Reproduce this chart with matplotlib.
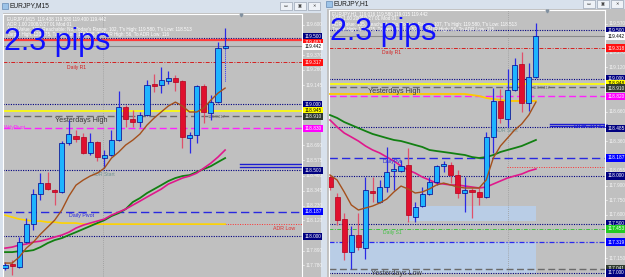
import numpy as np
import matplotlib.pyplot as plt
from matplotlib.patches import Rectangle
from matplotlib.transforms import blended_transform_factory

plt.rcParams['font.family'] = ['Liberation Sans', 'DejaVu Sans']

W, H = 625, 277

# ---------------- EURJPY M15 (left window) ----------------
m15_open = [117.759, 117.789, 117.766, 117.956, 118.092, 118.319, 118.403, 118.350,
            118.334, 118.706, 118.759, 118.751, 118.630, 118.713, 118.592, 118.615,
            118.728, 118.978, 118.887, 118.865, 118.918, 119.153, 119.145, 119.175,
            119.198, 119.175, 118.744, 118.766, 119.137, 118.933, 119.016, 119.425]
m15_high = [117.804, 117.819, 117.994, 118.137, 118.357, 118.478, 118.486, 118.357,
            118.721, 118.880, 118.804, 118.781, 118.781, 118.721, 118.653, 118.804,
            119.100, 118.994, 118.956, 118.941, 119.183, 119.228, 119.281, 119.251,
            119.221, 119.183, 118.789, 119.145, 119.153, 119.069, 119.471, 119.577]
m15_low = [117.744, 117.706, 117.759, 117.948, 118.047, 118.274, 118.350, 118.236,
           118.327, 118.691, 118.713, 118.622, 118.615, 118.569, 118.516, 118.607,
           118.721, 118.827, 118.827, 118.827, 118.910, 119.092, 119.084, 119.153,
           119.100, 118.668, 118.630, 118.706, 118.857, 118.880, 119.009, 119.418]
m15_close = [117.781, 117.774, 117.956, 118.092, 118.319, 118.403, 118.357, 118.334,
             118.706, 118.774, 118.736, 118.630, 118.713, 118.600, 118.615, 118.728,
             118.978, 118.887, 118.865, 118.918, 119.145, 119.137, 119.183, 119.198,
             119.168, 118.751, 118.766, 119.137, 118.941, 119.016, 119.425, 119.441]
m15_ma_brown = [117.797, 117.797, 117.842, 117.910, 117.956, 118.016, 118.069, 118.122,
                118.198, 118.304, 118.387, 118.425, 118.456, 118.478, 118.516, 118.592,
                118.637, 118.691, 118.728, 118.774, 118.842, 118.895, 118.941, 118.986,
                119.016, 118.986, 118.941, 118.941, 118.971, 119.031, 119.084, 119.122]
m15_ma_magenta = [117.910, 117.918, 117.933, 117.941, 117.956, 117.963, 117.978, 117.994,
                  118.009, 118.031, 118.062, 118.084, 118.100, 118.115, 118.130, 118.160,
                  118.183, 118.206, 118.236, 118.266, 118.297, 118.327, 118.357, 118.395,
                  118.418, 118.441, 118.456, 118.478, 118.516, 118.554, 118.600, 118.653]
m15_ma_green = [117.880, 117.880, 117.887, 117.887, 117.895, 117.918, 117.948, 117.971,
                117.986, 118.009, 118.031, 118.054, 118.077, 118.100, 118.122, 118.153,
                118.175, 118.206, 118.259, 118.289, 118.327, 118.357, 118.387, 118.418,
                118.441, 118.456, 118.463, 118.486, 118.509, 118.531, 118.562, 118.592]
m15_ma_yellow = [118.160, 118.145, 118.130, 118.122, 118.115, 118.115, 118.107, 118.107,
                 118.100, 118.100, 118.100, 118.092, 118.092, 118.092, 118.092, 118.092,
                 118.092, 118.092, 118.092, 118.092, 118.092, 118.092, 118.092, 118.092,
                 118.092, 118.092, 118.092, 118.092, 118.092, 118.092, 118.092, 118.092]
m15_ticks = [119.600, 119.370, 119.260, 119.145, 118.690, 118.575, 118.460,
             118.345, 118.230, 118.120, 117.890, 117.780]
m15_tags = [(119.512, '119.500', '#000080', 'white'), (119.468, '119.483', '#ff1010', 'white'),
            (119.437, '119.442', 'white', 'black'), (119.317, '119.317', '#ff1010', 'white'),
            (119.000, '119.000', '#000080', 'white'), (118.950, '118.945', '#ffff00', 'black'),
            (118.905, '118.910', '#2f3a2f', 'white'), (118.818, '118.830', '#ff00ff', 'white'),
            (118.500, '118.500', '#000080', 'white'), (118.187, '118.187', '#0000ff', 'white'),
            (118.000, '118.000', '#000080', 'white')]
m15_info = ['EURJPY,M15  119.438 119.580 119.400 119.442',
            'ADR 1.00 2008/2/27 01 Mod 01',
            'ADR Value: 105, Reachable: No, Today\'s Range: 102, T\'s High: 119.580, T\'s Low: 118.513',
            'Target High: 120.075, Target Low: 118.528, To ADR High: 56, To ADR Low: 116']

# ---------------- EURJPY H1 (right window) ----------------
h1_open = [117.989, 117.783, 117.556, 117.216, 117.391, 117.257, 117.845, 117.732,
           117.886, 118.051, 118.051, 118.113, 117.577, 117.690, 117.814, 117.938,
           118.103, 118.113, 118.010, 117.824, 117.855, 117.835, 117.783, 118.402,
           118.773, 118.587, 118.886, 119.154, 118.752, 119.020]
h1_high = [118.010, 117.824, 117.618, 117.484, 117.618, 117.989, 117.989, 117.958,
           118.299, 118.134, 118.165, 118.288, 117.732, 117.886, 117.989, 118.113,
           118.154, 118.144, 118.061, 117.989, 117.876, 117.876, 118.453, 118.907,
           118.896, 119.103, 119.216, 119.278, 119.165, 119.577]
h1_low = [117.855, 117.494, 117.134, 117.041, 117.237, 117.144, 117.732, 117.721,
          117.835, 117.855, 118.041, 117.525, 117.525, 117.680, 117.804, 117.907,
          118.041, 117.927, 117.773, 117.628, 117.567, 117.701, 117.773, 118.237,
          118.546, 118.505, 118.876, 118.659, 118.670, 119.010]
h1_close = [117.886, 117.546, 117.216, 117.391, 117.268, 117.855, 117.824, 117.886,
            118.041, 118.061, 118.103, 117.598, 117.680, 117.814, 117.938, 118.103,
            118.113, 118.010, 117.824, 117.855, 117.835, 117.783, 118.402, 118.773,
            118.598, 118.886, 119.144, 118.752, 119.020, 119.443]
h1_ma_brown = [118.010, 117.958, 117.835, 117.701, 117.649, 117.670, 117.690, 117.721,
               117.762, 117.835, 117.896, 117.866, 117.824, 117.835, 117.866, 117.907,
               117.927, 117.907, 117.886, 117.876, 117.876, 117.876, 117.958, 118.185,
               118.309, 118.391, 118.474, 118.536, 118.628, 118.762]
h1_ma_magenta = [118.577, 118.505, 118.443, 118.402, 118.360, 118.309, 118.268, 118.237,
                 118.195, 118.154, 118.103, 118.061, 118.030, 117.989, 117.958, 117.927,
                 117.917, 117.907, 117.907, 117.896, 117.886, 117.876, 117.886, 117.917,
                 117.948, 117.979, 118.000, 118.020, 118.051, 118.072]
h1_ma_green = [118.628, 118.598, 118.556, 118.525, 118.494, 118.463, 118.433, 118.412,
               118.391, 118.371, 118.360, 118.340, 118.319, 118.299, 118.268, 118.257,
               118.247, 118.237, 118.226, 118.216, 118.195, 118.185, 118.195, 118.216,
               118.247, 118.268, 118.288, 118.309, 118.340, 118.371]
h1_ma_yellow = [118.845, 118.845, 118.845, 118.845, 118.845, 118.845, 118.845, 118.845,
                118.845, 118.845, 118.845, 118.845, 118.845, 118.845, 118.845, 118.845,
                118.845, 118.845, 118.845, 118.845, 118.835, 118.824, 118.804, 118.793,
                118.783, 118.773, 118.773, 118.773, 118.773, 118.773]
h1_ticks = [119.570, 119.270, 119.120, 118.660, 118.360, 118.055, 117.900,
            117.750, 117.600, 117.150]
h1_tags = [(119.500, '119.500', '#000080', 'white'), (119.442, '119.442', 'white', 'black'),
           (119.318, '119.318', '#ff1010', 'white'), (119.000, '119.000', '#000080', 'white'),
           (118.950, '118.948', '#ffff00', 'black'), (118.905, '118.910', '#2f3a2f', 'white'),
           (118.820, '118.820', '#ff00ff', 'white'), (118.490, '118.485', '#000080', 'white'),
           (118.187, '118.187', '#0000ff', 'white'), (118.000, '118.000', '#000080', 'white'),
           (117.505, '117.500', '#000080', 'white'), (117.455, '117.453', '#22cc22', 'white'),
           (117.319, '117.319', '#0000ff', 'white'), (117.048, '117.041', '#2f3a2f', 'white'),
           (117.000, '117.000', '#000080', 'white')]
h1_info = ['EURJPY,H1  119.016 119.580 119.015 119.442',
           'ADR 1.00 2008/2/27 01 Mod 01',
           'ADR Value: 105, Reachable: No, Today\'s Range: 107, T\'s High: 119.580, T\'s Low: 118.513',
           'Target High: 120.075, Target Low: 118.528, To ADR High: 56, To ADR Low: 115']

# shared daily levels
daily_r1 = 119.317
yest_high = 118.912
yellow_lvl = 118.945
wkly_pivot = 118.822
daily_pivot = 118.187
adr_low = 118.092
daily_s1 = 117.453
blue_s_lvl = 117.319
yest_low = 117.041

fig = plt.figure(figsize=(6.25, 2.77), dpi=100)
fig.patch.set_facecolor('#d8e1ec')


def px_axes(x0, y0, x1, y1):
    return fig.add_axes([x0 / W, 1 - y1 / H, (x1 - x0) / W, (y1 - y0) / H])


def window_chrome(x0, x1, ytxt, title):
    # title bar text, icon and the three buttons
    fig.patches.append(Rectangle((x0 + 2) / W * np.array([1, 0]) + [0, 1 - (ytxt + 3) / H],
                                 6 / W, 6 / H, transform=fig.transFigure,
                                 fc='#9cc3e8', ec='#5078a8', lw=0.4))
    fig.text((x0 + 10) / W, 1 - ytxt / H, title, fontsize=4.8, color='#1a1a1a', va='center')
    for k in range(3):
        bx = x1 - 42 + k * 14
        fig.patches.append(Rectangle((bx / W, 1 - (ytxt + 3.5) / H), 12 / W, 7 / H,
                                     transform=fig.transFigure, fc='#eef2f7', ec='#8a96a6', lw=0.4))
    fig.text((x1 - 36) / W, 1 - ytxt / H, '▭', fontsize=3, ha='center', va='center', color='#333')
    fig.text((x1 - 22) / W, 1 - ytxt / H, '▣', fontsize=3, ha='center', va='center', color='#333')
    fig.text((x1 - 8) / W, 1 - ytxt / H, '✕', fontsize=3, ha='center', va='center', color='#333')


def draw_candles(ax, o, h, l, c, min_body):
    x = np.arange(len(o))
    o, h, l, c = map(np.asarray, (o, h, l, c))
    up = c >= o
    ax.vlines(x, l, h, colors=np.where(up, '#2a2ae6', '#e0506a'), lw=0.9, zorder=4)
    d = c - o
    d = np.where(np.abs(d) < min_body, np.where(up, min_body, -min_body), d)
    ax.bar(x, d, bottom=o, width=0.72, color=np.where(up, '#1eb4ff', '#e0102e'),
           edgecolor=np.where(up, '#00008b', '#b0001c'), lw=0.5, zorder=5)


def hline(ax, y, color, ls, lw, x0=None, x1=None):
    lo, hi = ax.get_xlim()
    ax.plot([lo if x0 is None else x0, hi if x1 is None else x1], [y, y],
            color=color, ls=ls, lw=lw, zorder=2)


def price_axis(ax, ticks, tags):
    tr = blended_transform_factory(ax.transAxes, ax.transData)
    for t in ticks:
        ax.text(1.012, t, f'{t:.3f}', transform=tr, fontsize=3.4, color='#f4f4f4',
                va='center', ha='left', clip_on=False)
        ax.plot([1.0, 1.008], [t, t], transform=tr, color='white', lw=0.4, clip_on=False)
    for y, s, fc, tc in tags:
        ax.text(1.008, y, s, transform=tr, fontsize=3.4, color=tc, va='center', ha='left',
                clip_on=False, zorder=10,
                bbox=dict(boxstyle='square,pad=0.25', fc=fc, ec='none'))


def info_text(ax, lines, y0):
    for k, s in enumerate(lines):
        ax.text(0.012, y0 - k * 0.019, s, transform=ax.transAxes, fontsize=3.3,
                color='white', va='top', ha='left', zorder=8)


def style_ax(ax):
    ax.set_facecolor('#c0c0c0')
    for sp in ax.spines.values():
        sp.set_color('white')
        sp.set_linewidth(0.8)
    ax.set_xticks([])
    ax.set_yticks([])


# ---------- left window ----------
window_chrome(0, 322, 6, 'EURJPY,M15')
bg = px_axes(3, 13, 321, 277)
bg.set_facecolor('#c0c0c0')
bg.set_xticks([]); bg.set_yticks([])
for sp in bg.spines.values():
    sp.set_visible(False)

ax1 = px_axes(3, 14, 302, 278)
style_ax(ax1)
ax1.set_xlim(-0.28, 41.83)
ax1.set_ylim(117.684, 119.683)

hline(ax1, 119.501, '#000080', (0, (1, 1.2)), 0.8)
hline(ax1, 119.486, '#ff3a3a', '-', 1.6)
hline(ax1, 119.442, '#8a8a8a', '-', 0.8)
hline(ax1, daily_r1, '#d42020', (0, (4, 1.5, 1, 1.5)), 0.7)
hline(ax1, 119.000, '#000080', (0, (1, 1.2)), 0.8)
hline(ax1, yellow_lvl, '#ffff00', '-', 1.2)
hline(ax1, yest_high, '#6a6a6a', (0, (5, 2.5)), 1.0)
hline(ax1, wkly_pivot, '#ff20ff', (0, (5, 2.5)), 1.0)
hline(ax1, 118.500, '#000080', (0, (1, 1.2)), 0.8)
hline(ax1, daily_pivot, '#2828e0', (0, (6, 3)), 1.0)
hline(ax1, 118.000, '#000080', (0, (1, 1.2)), 0.8)
hline(ax1, adr_low, '#ff3030', (0, (1, 1.5)), 0.7, x0=31)
hline(ax1, 118.544, '#1c1cd0', '-', 1.0, x0=33.1)
hline(ax1, 118.522, '#1c1cd0', '-', 1.0, x0=33.1)
ax1.axvline(13.8, color='#9a9a9a', ls=(0, (1, 1.5)), lw=0.6, zorder=1)

idx1 = np.arange(len(m15_open))
ax1.plot(idx1, m15_ma_yellow, color='#ffd400', lw=1.2, zorder=3)
ax1.plot(idx1, m15_ma_green, color='#128012', lw=1.3, zorder=3)
ax1.plot(idx1, m15_ma_magenta, color='#e0188c', lw=1.2, zorder=3)
ax1.plot(idx1, m15_ma_brown, color='#a4501c', lw=1.0, zorder=6)
draw_candles(ax1, m15_open, m15_high, m15_low, m15_close, 0.012)
ax1.plot([31, 31], [119.418, 119.17], color='#3030ff', ls=(0, (1, 1)), lw=0.7, zorder=4)

ax1.text(10.1, 119.300, 'Daily R1', fontsize=3.6, color='#d42020', ha='center', va='top')
ax1.text(10.8, 118.905, 'Yesterdays High', fontsize=5.2, color='#3c3c3c', ha='center', va='top')
ax1.text(-0.2, 118.822, 'WklyPivot', fontsize=3.6, color='#ff20ff', ha='left', va='center')
ax1.text(13.8, 118.488, 'ADR Start', fontsize=3.6, color='#6f9090', ha='center', va='top')
ax1.text(10.8, 118.175, 'Daily Pivot', fontsize=3.8, color='#2828e0', ha='center', va='top')
ax1.text(39.3, 118.080, 'ADR Low', fontsize=3.8, color='#e03030', ha='center', va='top')
ax1.text(28.5, 118.905, '118.9417', fontsize=3.2, color='#707070', ha='left', va='center')
ax1.text(0.005, 0.95, '2.3 pips', transform=ax1.transAxes, fontsize=22, color='#1010ff',
         va='top', ha='left', zorder=9)
info_text(ax1, m15_info, 0.99)
ax1.plot([33.3], [119.672], marker='v', ms=2, color='#8090a0', zorder=9, clip_on=False)
price_axis(ax1, m15_ticks, m15_tags)

# ---------- right window ----------
window_chrome(324, 625, 4, 'EURJPY,H1')
bg2 = px_axes(327, 9, 625, 277)
bg2.set_facecolor('#c0c0c0')
bg2.set_xticks([]); bg2.set_yticks([])
for sp in bg2.spines.values():
    sp.set_visible(False)

ax2 = px_axes(329, 10, 605, 278)
style_ax(ax2)
ax2.set_xlim(-0.14, 38.73)
ax2.set_ylim(116.948, 119.711)

ax2.add_patch(Rectangle((10.8, 117.536), 18.2, 0.154, fc='#b9cde6', ec='none', zorder=1))
ax2.add_patch(Rectangle((-0.5, 117.000), 29.5, 0.319, fc='#b9cde6', ec='none', zorder=1))
hline(ax2, 119.500, '#000080', (0, (1, 1.2)), 0.8)
hline(ax2, 119.442, '#8a8a8a', '-', 0.8)
hline(ax2, daily_r1, '#d42020', (0, (4, 1.5, 1, 1.5)), 0.7)
hline(ax2, 119.000, '#000080', (0, (1, 1.2)), 0.8)
hline(ax2, yellow_lvl, '#ffff00', '-', 1.2)
hline(ax2, yest_high, '#6a6a6a', (0, (5, 2.5)), 1.0)
hline(ax2, wkly_pivot, '#ff20ff', (0, (5, 2.5)), 1.0)
hline(ax2, 118.500, '#000080', (0, (1, 1.2)), 0.8)
hline(ax2, daily_pivot, '#2828e0', (0, (6, 3)), 1.0)
hline(ax2, adr_low, '#ff3030', (0, (1, 1.5)), 0.7, x0=24.9)
hline(ax2, 118.000, '#000080', (0, (1, 1.2)), 0.8)
hline(ax2, 117.500, '#000080', (0, (1, 1.2)), 0.8)
hline(ax2, daily_s1, '#40c040', (0, (4, 1.5, 1, 1.5)), 0.7)
hline(ax2, blue_s_lvl, '#2828f0', (0, (4, 1.5, 1, 1.5)), 0.9)
hline(ax2, yest_low, '#6a6a6a', (0, (5, 2.5)), 1.0)
hline(ax2, 117.000, '#000080', (0, (1, 1.2)), 0.8)
hline(ax2, 118.536, '#1c1cd0', '-', 1.0, x0=31)
hline(ax2, 118.515, '#1c1cd0', '-', 1.0, x0=31)
ax2.axvline(25.1, color='#9a9a9a', ls=(0, (1, 1.5)), lw=0.6, zorder=1)

idx2 = np.arange(len(h1_open))
ax2.plot(idx2, h1_ma_yellow, color='#ffc800', lw=1.3, zorder=3)
ax2.plot(idx2, h1_ma_green, color='#128012', lw=1.3, zorder=3)
ax2.plot(idx2, h1_ma_magenta, color='#e0188c', lw=1.2, zorder=3)
ax2.plot(idx2, h1_ma_brown, color='#a4501c', lw=1.0, zorder=6)
draw_candles(ax2, h1_open, h1_high, h1_low, h1_close, 0.016)

ax2.text(8.7, 119.300, 'Daily R1', fontsize=3.6, color='#d42020', ha='center', va='top')
ax2.text(9.0, 118.905, 'Yesterdays High', fontsize=5.2, color='#3c3c3c', ha='center', va='top')
ax2.text(8.8, 118.176, 'DailyPvt', fontsize=3.8, color='#2828e0', ha='center', va='top')
ax2.text(24.9, 118.492, 'ADR Start', fontsize=3.6, color='#6f9090', ha='center', va='top')
ax2.text(8.8, 117.443, 'Daily S1', fontsize=3.6, color='#40c040', ha='center', va='top')
ax2.text(9.3, 117.030, 'Yesterdays Low', fontsize=5.2, color='#3c3c3c', ha='center', va='top')
ax2.text(36.8, 118.505, 'BRK 1H EU', fontsize=4.6, color='#1c1cd0', ha='center', va='center',
         fontweight='bold', zorder=9)
ax2.text(28.5, 118.905, '118.9417', fontsize=3.2, color='#707070', ha='left', va='center')
ax2.text(0.005, 0.975, '2.3 pips', transform=ax2.transAxes, fontsize=22, color='#1010ff',
         va='top', ha='left', zorder=9)
info_text(ax2, h1_info, 0.995)
ax2.plot([30.5], [119.702], marker='v', ms=2, color='#8090a0', zorder=9, clip_on=False)
price_axis(ax2, h1_ticks, h1_tags)

fig.savefig('out.png', dpi=100, facecolor=fig.get_facecolor())
